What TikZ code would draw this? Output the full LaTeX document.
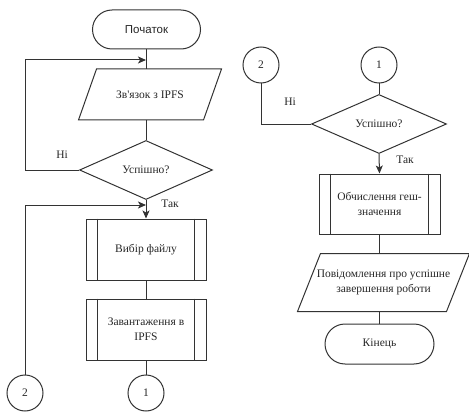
\documentclass[tikz,border=0pt]{standalone}
\usepackage{fontspec}
\setmainfont{Liberation Serif}
\newfontfamily\labsans{Liberation Sans}
\newfontfamily\plainserif{Liberation Serif}
\usetikzlibrary{shapes.geometric,arrows.meta,calc}
\begin{document}
\begin{tikzpicture}[x=1pt,y=-1pt,
  line width=1pt,
  every node/.style={font=\fontsize{11.5}{15}\selectfont, text=black!85},
  lc/.style={draw=black!80},
  term/.style={lc, rectangle, rounded corners=19.5pt, minimum width=108pt, minimum height=39pt, inner sep=0pt},
  iobox/.style={rectangle, inner sep=0pt, align=center},
  proc/.style={lc, rectangle, minimum width=120pt, minimum height=61pt, inner sep=0pt, align=center},
  dec/.style={lc, diamond, aspect=2.25, minimum width=133pt, minimum height=59pt, inner sep=0pt},
  conn/.style={lc, circle, minimum size=36pt, inner sep=0pt},
  arr/.style={lc, -{Stealth[length=8pt,width=7pt,inset=2pt]}},
  ln/.style={lc}
]
\useasboundingbox (0,0) rectangle (469,412);

% ---------- left column ----------
\node[term] (start) at (146.5,29.5) {\labsans Початок};
\node[iobox, minimum width=142pt, minimum height=50pt] (io1) at (150,94.5) {\plainserif Зв'язок з IPFS};
\draw[ln] ([xshift=18pt]io1.north west) -- (io1.north east) -- ([xshift=-18pt]io1.south east) -- (io1.south west) -- cycle;
\node[dec] (dec1) at (146,170) {Успішно?};
\node[proc] (proc1) at (146,249.5) {Вибір файлу};
\draw[ln] ([xshift=12pt]proc1.north west) -- ([xshift=12pt]proc1.south west);
\draw[ln] ([xshift=-12pt]proc1.north east) -- ([xshift=-12pt]proc1.south east);
\node[proc] (proc2) at (146,329.5) {Завантаження в\\IPFS};
\draw[ln] ([xshift=12pt]proc2.north west) -- ([xshift=12pt]proc2.south west);
\draw[ln] ([xshift=-12pt]proc2.north east) -- ([xshift=-12pt]proc2.south east);
\node[conn] (c1) at (146,393) {1};
\node[conn] (c2) at (25,393) {2};

\coordinate (l1) at (25,60);
\coordinate (l2) at (25,205);
\draw[ln] (start) -- (start |- io1.north);
\draw[ln] (io1.south -| dec1) -- (dec1.north);
\draw[arr] (dec1.west) -| (l1) -- (l1 -| dec1);
\draw[arr] (c2.north) -- (l2) -- (l2 -| dec1);
\draw[arr] (dec1.south) -- (proc1.north);
\draw[ln] (proc1.south) -- (proc2.north);
\draw[ln] (proc2.south) -- (c1.north);
\node (ni1) at (62,155) {Ні};
\node (tak1) at (170,204) {Так};

% ---------- right column ----------
\node[conn] (rc2) at (261,65) {2};
\node[conn] (rc1) at (379,65) {1};
\node[dec, minimum width=135pt] (dec2) at (379,124) {Успішно?};
\node[proc, minimum width=121pt, minimum height=60pt] (proc3) at (379.5,204) {Обчислення геш-\\значення};
\draw[ln] ([xshift=12pt]proc3.north west) -- ([xshift=12pt]proc3.south west);
\draw[ln] ([xshift=-12pt]proc3.north east) -- ([xshift=-12pt]proc3.south east);
\node[iobox, minimum width=171pt, minimum height=57pt] (io2) at (383.5,282.5) {Повідомлення про успішне\\завершення роботи};
\draw[ln] ([xshift=23pt]io2.north west) -- (io2.north east) -- ([xshift=-23pt]io2.south east) -- (io2.south west) -- cycle;
\node[term, minimum width=109pt, minimum height=40pt, rounded corners=20pt] (end) at (379.5,344) {Кінець};

\draw[ln] (rc1.south) -- (dec2.north);
\draw[ln] (dec2.west) -| (rc2.south);
\draw[arr] (dec2.south) -- (proc3.north);
\draw[ln] (proc3.south) -- (proc3.south |- io2.north);
\draw[ln] (io2.south -| end) -- (end.north);
\node (ni2) at (290,102) {Ні};
\node (tak2) at (405,160) {Так};
\end{tikzpicture}
\end{document}
